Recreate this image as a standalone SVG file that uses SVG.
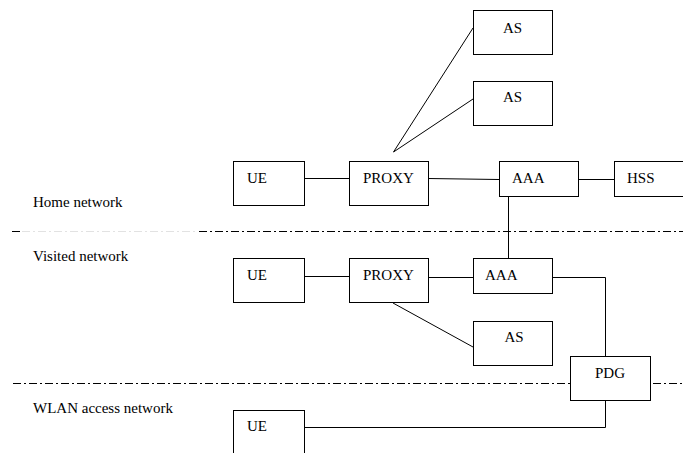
<svg xmlns="http://www.w3.org/2000/svg" width="683" height="453" viewBox="0 0 683 453" font-family="'Liberation Serif', 'DejaVu Serif', serif">
<style>
.box{fill:#fff;stroke:#000;stroke-width:1}
text{font-family:'Liberation Serif','DejaVu Serif',serif;font-size:15px;fill:#000}
.mid{text-anchor:middle}
.ln{fill:none;stroke:#000;stroke-width:1}
.dd{fill:none;stroke:#000;stroke-width:1;stroke-dasharray:8,3,2,3}
.faint{fill:none;stroke:#e2e2e2;stroke-width:1;stroke-dasharray:8,3,2,3}
</style>
<rect width="683" height="453" fill="#fff"/>
<g id="boundaries">
<line class="ln" x1="12" y1="231.5" x2="20" y2="231.5"/>
<line class="faint" x1="22" y1="231.5" x2="198" y2="231.5"/>
<line class="dd" x1="199" y1="231.5" x2="683" y2="231.5"/>
<line class="dd" x1="13" y1="383.5" x2="683" y2="383.5"/>
</g>
<g id="region-labels">
<text x="33" y="207">Home network</text>
<text x="33" y="261">Visited network</text>
<text x="33" y="413">WLAN access network</text>
</g>
<g id="connectors">
<polyline class="ln" points="304,178.5 349,178.5"/>
<polyline class="ln" points="428,178.5 499,179.5"/>
<polyline class="ln" points="579,179.5 614,179.5"/>
<polyline class="ln" points="393.5,152 473,28"/>
<polyline class="ln" points="393.5,152 473,99"/>
<polyline class="ln" points="508.5,196 508.5,258"/>
<polyline class="ln" points="304,276.5 349,276.5"/>
<polyline class="ln" points="428,277.5 473,277.5"/>
<polyline class="ln" points="552,277.5 605.5,277.5 605.5,356"/>
<polyline class="ln" points="393,303 473,347"/>
<polyline class="ln" points="605.5,401 605.5,427.5 305,427.5"/>
</g>
<g id="as-1"><rect class="box" x="473.5" y="10.5" width="79" height="44"/><text class="mid" x="512.5" y="33">AS</text></g>
<g id="as-2"><rect class="box" x="473.5" y="81.5" width="79" height="44"/><text class="mid" x="512.5" y="102">AS</text></g>
<g id="ue-home"><rect class="box" x="233.5" y="161.5" width="71" height="44"/><text x="247" y="183">UE</text></g>
<g id="proxy-home"><rect class="box" x="349.5" y="161.5" width="79" height="44"/><text x="363" y="183">PROXY</text></g>
<g id="aaa-home"><rect class="box" x="499.5" y="161.5" width="79" height="35"/><text x="512" y="183">AAA</text></g>
<g id="hss"><rect class="box" x="614.5" y="161.5" width="80" height="35"/><text x="627" y="183">HSS</text></g>
<g id="ue-visited"><rect class="box" x="233.5" y="258.5" width="71" height="44"/><text x="247" y="280">UE</text></g>
<g id="proxy-visited"><rect class="box" x="349.5" y="258.5" width="79" height="44"/><text x="363" y="280">PROXY</text></g>
<g id="aaa-visited"><rect class="box" x="473.5" y="258.5" width="79" height="35"/><text x="485" y="280">AAA</text></g>
<g id="as-visited"><rect class="box" x="473.5" y="321.5" width="79" height="44"/><text class="mid" x="514" y="342">AS</text></g>
<g id="pdg"><rect class="box" x="570.5" y="356.5" width="80" height="44"/><text class="mid" x="610" y="378">PDG</text></g>
<g id="ue-wlan"><rect class="box" x="233.5" y="410.5" width="71" height="50"/><text x="247" y="431">UE</text></g>
</svg>
